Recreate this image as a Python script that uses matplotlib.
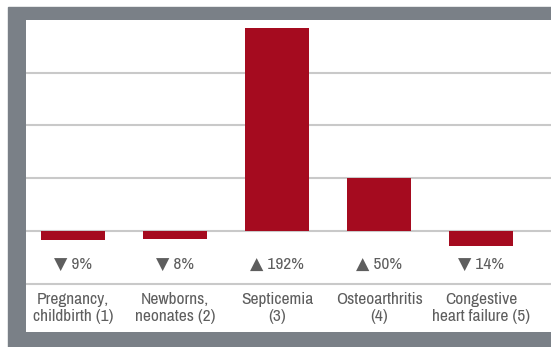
import matplotlib.pyplot as plt
from matplotlib import font_manager
from matplotlib.patches import Rectangle

# data (% change)
categories = ["Pregnancy,\nchildbirth (1)", "Newborns,\nneonates (2)", "Septicemia\n(3)",
              "Osteoarthritis\n(4)", "Congestive\nheart failure (5)"]
changes = [-9, -8, 192, 50, -14]
change_labels = ["\u25BC 9%", "\u25BC 8%", "\u25B2 192%", "\u25B2 50%", "\u25BC 14%"]

bar_color = "#a50b1f"
frame_color = "#7a8087"
text_color = "#5e5e5e"
grid_color = "#c9c9c9"

# the original uses a condensed face; take one if the box has it
names = sorted({f.name for f in font_manager.fontManager.ttflist})
narrow = [n for n in names if "Narrow" in n or "Condensed" in n]
fonts = narrow[:1] + ["Roboto", "DejaVu Sans"]
fsize = 12.5 if narrow else 10

fig = plt.figure(figsize=(5.51, 3.47), dpi=100)
W, H = 551, 347

# gray frame behind the white panel
fig.patches.append(Rectangle((8 / W, 0), 1 - 8 / W, 1 - 7 / H,
                             transform=fig.transFigure, color=frame_color, zorder=0))

ax = fig.add_axes([26 / W, 1 - 332 / H, 1 - 26 / W, (332 - 20) / H])
ax.set_facecolor("white")
ax.set_zorder(1)

x = range(len(categories))
ax.bar(x, changes, width=0.63, color=bar_color, zorder=3)

ax.set_ylim(-95.8, 200)
ax.set_xlim(-0.461, 4.686)

for y in [-50, 0, 50, 100, 150]:
    ax.axhline(y, color=grid_color, lw=1.5, zorder=2)

for i, (lab, cat) in enumerate(zip(change_labels, categories)):
    ax.text(i, -32, lab, ha="center", va="center", fontsize=fsize,
            color=text_color, family=fonts)
    ax.text(i, -73, cat, ha="center", va="center", fontsize=fsize,
            color=text_color, family=fonts, linespacing=1.15)

ax.set_xticks([])
ax.set_yticks([])
for s in ax.spines.values():
    s.set_visible(False)

fig.savefig("out.png", dpi=100)
